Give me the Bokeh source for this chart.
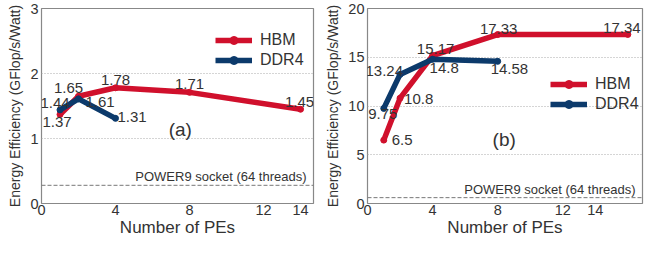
from bokeh.plotting import figure
from bokeh.layouts import row
from bokeh.models import FixedTicker, Legend, LegendItem, Span, Label
from bokeh.embed import file_html
from bokeh.resources import INLINE

# ---- data ----
a_hbm_x = [1, 2, 4, 8, 14]
a_hbm_y = [1.37, 1.65, 1.78, 1.71, 1.45]
a_ddr_x = [1, 2, 4]
a_ddr_y = [1.44, 1.61, 1.31]
a_power9 = 0.28

b_hbm_x = [1, 2, 4, 8, 16]
b_hbm_y = [6.5, 10.8, 15.17, 17.33, 17.34]
b_ddr_x = [1, 2, 4, 8]
b_ddr_y = [9.75, 13.24, 14.8, 14.58]
b_power9 = 0.6

x_ticks = [0, 4, 8, 12, 14]
a_y_ticks = [0, 1, 2, 3]
b_y_ticks = [0, 5, 10, 15, 20]

# label placement styles (align, baseline, x_offset, y_offset down)
a_hbm_lab = [("center", "top", -3, 3), ("center", "bottom", -10, -3), ("center", "bottom", 0, -3),
             ("center", "bottom", 0, -3), ("center", "bottom", -1, -2)]
a_ddr_lab = [("center", "bottom", -5, -2), ("left", "middle", 7, 3), ("left", "middle", 2, -1)]
b_hbm_lab = [("left", "middle", 8, 0), ("left", "middle", 4, 1), ("center", "bottom", 3, -2),
             ("center", "bottom", 1, -1), ("center", "bottom", -6, -1)]
b_ddr_lab = [("center", "top", -1, 1), ("right", "middle", 3, -3), ("left", "top", -3, 4),
             ("left", "top", -7, 3)]

RED = "#D0102C"
NAVY = "#0C3A6B"
FONT = "Liberation Sans"
GRAY = "#888888"
TXT = "#333333"


def make_fig(width, height, xmax, ymax, yticks, mbl, mbr):
    p = figure(width=width, height=height, x_range=(0, xmax), y_range=(0, ymax),
               output_backend="svg", toolbar_location=None,
               min_border_left=mbl, min_border_right=mbr, min_border_top=8, min_border_bottom=0)
    p.outline_line_color = GRAY
    p.outline_line_width = 1.2
    p.background_fill_color = "white"
    p.xgrid.visible = False
    p.ygrid.grid_line_color = "#aaaaaa"
    p.ygrid.grid_line_dash = "1 2"
    p.ygrid.grid_line_width = 1
    p.xaxis.ticker = FixedTicker(ticks=x_ticks)
    p.yaxis.ticker = FixedTicker(ticks=yticks)
    for ax in (p.xaxis[0], p.yaxis[0]):
        ax.axis_line_color = None
        ax.major_tick_line_color = None
        ax.minor_tick_line_color = None
        ax.major_tick_out = 0
        ax.major_tick_in = 0
        ax.major_label_text_font = FONT
        ax.major_label_text_font_size = "14.5px"
        ax.major_label_text_color = TXT
        ax.axis_label_text_font = FONT
        ax.axis_label_text_font_style = "normal"
        ax.axis_label_text_color = TXT
    p.xaxis.axis_label = "Number of PEs"
    p.xaxis.axis_label_text_font_size = "17px"
    p.xaxis.major_label_standoff = 1
    p.xaxis.axis_label_standoff = 0
    p.yaxis.axis_label = "Energy Efficiency (GFlop/s/Watt)"
    p.yaxis.axis_label_text_font_size = "14px"
    p.yaxis.major_label_standoff = 3
    p.yaxis.axis_label_standoff = 4
    return p


def add_series(p, x, y, color):
    r1 = p.line(x, y, line_color=color, line_width=5.5)
    r2 = p.scatter(x, y, size=6, color=color)
    return [r1, r2]


def add_labels(p, x, y, styles):
    for xi, yi, (al, bl, dx, dy) in zip(x, y, styles):
        p.add_layout(Label(x=xi, y=yi, text=f"{yi:g}", text_align=al, text_baseline=bl,
                           x_offset=dx, y_offset=-dy, text_font=FONT, text_font_size="15px",
                           text_color=TXT))


def add_power9(p, yv):
    p.add_layout(Span(location=yv, dimension="width", line_color="#777777",
                      line_dash="4 2", line_width=1))
    p.add_layout(Label(x=p.x_range.end, y=yv, text="POWER9 socket (64 threads)",
                       text_align="right", text_baseline="bottom", x_offset=-7, y_offset=1,
                       text_font=FONT, text_font_size="13px", text_color=TXT))


def add_legend(p, hbm, ddr, loc):
    leg = Legend(items=[LegendItem(label="HBM", renderers=hbm), LegendItem(label="DDR4", renderers=ddr)],
                 location=loc, glyph_width=37, glyph_height=20, spacing=0,
                 label_text_font=FONT, label_text_font_size="16px", label_text_color=TXT,
                 background_fill_alpha=0, border_line_color=None, padding=4, label_standoff=8)
    p.add_layout(leg)


H = 239
# ---- panel (a) ----
p1 = make_fig(322, H, 14.7, 3, a_y_ticks, 41, 9)
add_power9(p1, a_power9)
ra_h = add_series(p1, a_hbm_x, a_hbm_y, RED)
ra_d = add_series(p1, a_ddr_x, a_ddr_y, NAVY)
add_labels(p1, a_hbm_x, a_hbm_y, a_hbm_lab)
add_labels(p1, a_ddr_x, a_ddr_y, a_ddr_lab)
p1.add_layout(Label(x=7.5, y=1.14, text="(a)", text_align="center", text_baseline="middle",
                    text_font=FONT, text_font_size="19px", text_color=TXT))
add_legend(p1, ra_h, ra_d, (174, 133))

# ---- panel (b) ----
p2 = make_fig(323, H, 16.9, 20, b_y_ticks, 44, 3)
add_power9(p2, b_power9)
rb_h = add_series(p2, b_hbm_x, b_hbm_y, RED)
rb_d = add_series(p2, b_ddr_x, b_ddr_y, NAVY)
add_labels(p2, b_hbm_x, b_hbm_y, b_hbm_lab)
add_labels(p2, b_ddr_x, b_ddr_y, b_ddr_lab)
p2.add_layout(Label(x=8.4, y=6.6, text="(b)", text_align="center", text_baseline="middle",
                    text_font=FONT, text_font_size="19px", text_color=TXT))
add_legend(p2, rb_h, rb_d, (183, 89))

layout = row(p1, p2)
open("out.html", "w").write(file_html(layout, INLINE))
